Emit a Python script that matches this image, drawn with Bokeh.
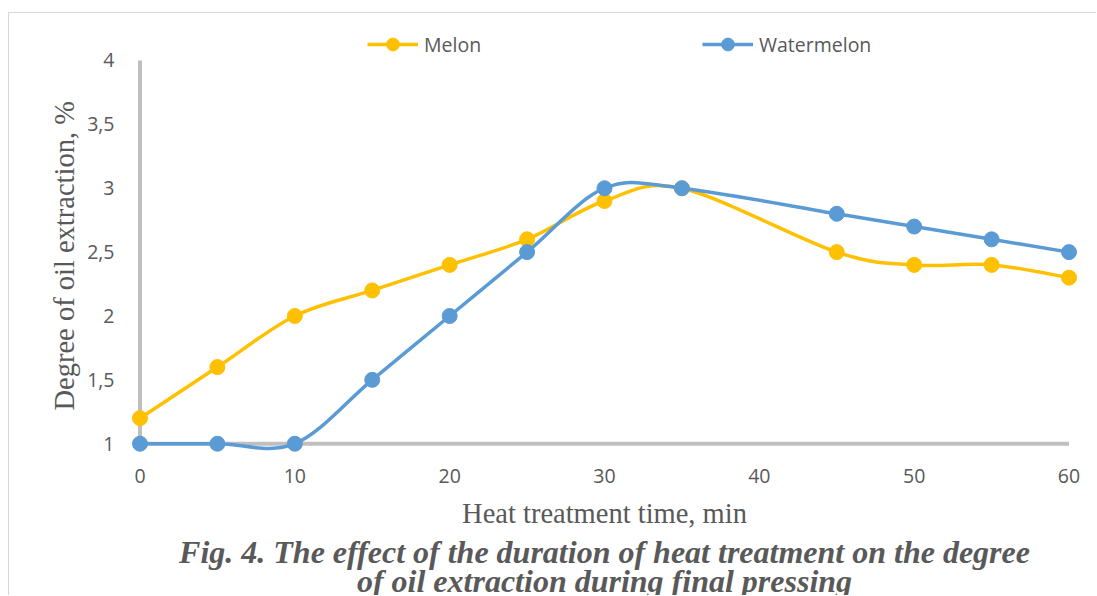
import numpy as np
from bokeh.plotting import figure
from bokeh.models import Range1d, FixedTicker, Legend, LegendItem, Title
from bokeh.embed import file_html
from bokeh.resources import INLINE

# ---- data ----
minutes = [0, 5, 10, 15, 20, 25, 30, 35, 45, 50, 55, 60]
melon = [1.2, 1.6, 2.0, 2.2, 2.4, 2.6, 2.9, 3.0, 2.5, 2.4, 2.4, 2.3]
watermelon = [1.0, 1.0, 1.0, 1.5, 2.0, 2.5, 3.0, 3.0, 2.8, 2.7, 2.6, 2.5]
series_names = ["Melon", "Watermelon"]
x_ticks = [0, 10, 20, 30, 40, 50, 60]
y_ticks = [1, 1.5, 2, 2.5, 3, 3.5, 4]
y_tick_labels = ["1", "1,5", "2", "2,5", "3", "3,5", "4"]
x_title = "Heat treatment time, min"
y_title = "Degree of oil extraction, %"
caption_1 = "Fig. 4. The effect of the duration of heat treatment on the degree"
caption_2 = "of oil extraction during final pressing"

colors = ["#FFC000", "#5B9BD5"]
GREY = "#595959"
SANS = "Open Sans"
SERIF = "Liberation Serif"


def smooth_segments(x, y):
    """Bezier control points of a Catmull-Rom style smoothed line (as Excel draws)."""
    x = np.asarray(x, float)
    y = np.asarray(y, float)
    xp = np.concatenate([[x[0]], x, [x[-1]]])
    yp = np.concatenate([[y[0]], y, [y[-1]]])
    n = len(x)
    cx0 = x[:-1] + (x[1:] - xp[0:n - 1]) / 6.0
    cy0 = y[:-1] + (y[1:] - yp[0:n - 1]) / 6.0
    cx1 = x[1:] - (xp[3:n + 2] - x[:-1]) / 6.0
    cy1 = y[1:] - (yp[3:n + 2] - y[:-1]) / 6.0
    return dict(x0=x[:-1], y0=y[:-1], x1=x[1:], y1=y[1:],
                cx0=cx0, cy0=cy0, cx1=cx1, cy1=cy1)


p = figure(width=1088, height=583, output_backend="svg", toolbar_location=None,
           x_range=Range1d(-1, 61), y_range=Range1d(0.9, 4.3444),
           min_border_left=115, min_border_right=13,
           min_border_top=3, min_border_bottom=140)
p.title.visible = False
p.styles = {"border-top": "1px solid #D9D9D9", "border-left": "1px solid #D9D9D9",
            "position": "relative", "top": "12px", "left": "8px"}
p.grid.visible = False
p.outline_line_color = None
p.background_fill_color = "white"
p.border_fill_color = "white"

for ax in (p.xaxis, p.yaxis):
    ax.axis_line_color = None
    ax.major_tick_line_color = None
    ax.minor_tick_line_color = None
    ax.major_label_text_font = SANS
    ax.major_label_text_font_size = "19.5px"
    ax.major_label_text_color = GREY
p.xaxis.ticker = FixedTicker(ticks=x_ticks)
p.yaxis.ticker = FixedTicker(ticks=y_ticks)
p.yaxis.major_label_overrides = dict(zip(y_ticks, y_tick_labels))
p.xaxis.major_label_standoff = 6
p.yaxis.major_label_standoff = 4

# axis lines
p.line(x=[x_ticks[0], x_ticks[-1]], y=[y_ticks[0], y_ticks[0]], line_color="#BFBFBF", line_width=4)
p.line(x=[x_ticks[0], x_ticks[0]], y=[y_ticks[0], y_ticks[-1]], line_color="#BFBFBF", line_width=4)

legend_x = [243, 578]
for name, vals, col, lx in zip(series_names, [melon, watermelon], colors, legend_x):
    seg = smooth_segments(minutes, vals)
    r_line = p.bezier(source=seg, x0="x0", y0="y0", x1="x1", y1="y1",
                      cx0="cx0", cy0="cy0", cx1="cx1", cy1="cy1",
                      line_color=col, line_width=3.5)
    r_pts = p.scatter(minutes, vals, size=15, fill_color=col, line_color=col)
    leg = Legend(items=[LegendItem(label=name, renderers=[r_line, r_pts])],
                 location=(lx, 396), orientation="horizontal",
                 glyph_width=51, glyph_height=32, label_height=32,
                 label_standoff=6, padding=0, margin=0, spacing=0,
                 border_line_color=None, background_fill_alpha=0,
                 label_text_font=SANS, label_text_font_size="19.5px",
                 label_text_color=GREY)
    p.add_layout(leg, "center")

p.add_layout(Title(text=y_title, align="left", offset=46, standoff=9,
                   text_font=SERIF, text_font_size="28.5px", text_font_style="normal",
                   text_color=GREY), "left")
p.add_layout(Title(text=x_title, align="center", standoff=20,
                   text_font=SERIF, text_font_size="28.5px", text_font_style="normal",
                   text_color=GREY), "below")
p.add_layout(Title(text=caption_1, align="center", standoff=-14,
                   text_font=SERIF, text_font_size="32px", text_font_style="bold italic",
                   text_color=GREY), "below")
p.add_layout(Title(text=caption_2, align="center", standoff=-4,
                   text_font=SERIF, text_font_size="32px", text_font_style="bold italic",
                   text_color=GREY), "below")

open("out.html", "w").write(file_html(p, INLINE))
